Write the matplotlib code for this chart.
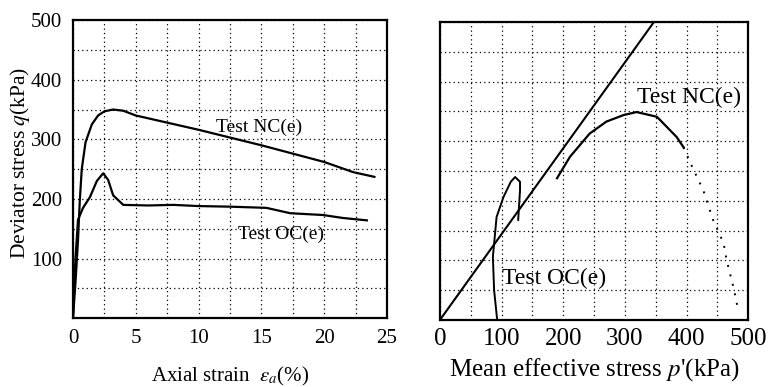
import matplotlib.pyplot as plt
from matplotlib.ticker import MultipleLocator

plt.rcParams['font.family'] = 'Liberation Serif'
plt.rcParams['mathtext.fontset'] = 'stix'

# Data: stress-strain curves
nc_strain = [0, 0.2, 0.4, 0.55, 0.7, 1.0, 1.5, 2.0, 2.5, 3.2, 4.0, 5, 10, 15, 20, 22.3, 24]
nc_q = [0, 60, 130, 200, 250, 295, 325, 340, 347, 350, 348, 340, 316, 290, 262, 245, 237]

oc_strain = [0, 0.2, 0.4, 0.8, 1.35, 1.9, 2.4, 2.8, 3.2, 4.0, 6, 8, 10, 12.5, 15.4, 17.3, 19.9, 21.5, 23.4]
oc_q = [0, 100, 165, 185, 203, 230, 243, 232, 206, 190, 189, 190, 188, 187, 185, 176, 173, 168, 164]

# Data: effective stress paths
csl_p = [0, 347]
csl_q = [0, 500]

nc_p = [190, 211, 243, 270, 298, 319, 352, 384, 395]
nc_path_q = [238, 274, 313, 333, 344, 349, 341, 307, 290]
nc_p_tail = [395, 410, 427, 443, 460, 465, 476, 482]
nc_q_tail = [290, 255, 218, 168, 129, 100, 55, 25]

oc_p = [93, 88, 86, 92, 103, 115, 122, 130, 130, 127]
oc_path_q = [0, 50, 106, 173, 206, 232, 240, 232, 218, 168]

fig = plt.figure(figsize=(7.73, 3.87), dpi=100)
ax1 = fig.add_axes([0.0944, 0.178, 0.4062, 0.770])
ax2 = fig.add_axes([0.569, 0.173, 0.399, 0.770])

for ax in (ax1, ax2):
    ax.grid(True, which='both', linestyle=(0, (1, 2.5)), color='black', linewidth=0.9)
    ax.tick_params(which='both', length=0, pad=8)
    for s in ax.spines.values():
        s.set_linewidth(1.6)
    ax.set_ylim(0, 500)
    ax.yaxis.set_minor_locator(MultipleLocator(50))

# Left panel
ax1.plot(nc_strain, nc_q, color='black', lw=1.6)
ax1.plot(oc_strain, oc_q, color='black', lw=1.6)
ax1.set_xlim(0, 25)
ax1.set_xticks([0, 5, 10, 15, 20, 25])
ax1.xaxis.set_minor_locator(MultipleLocator(2.5))
ax1.set_yticks([100, 200, 300, 400, 500])
ax1.tick_params(labelsize=15)
ax1.set_xlabel(r'Axial strain  $\varepsilon_a$(%)', fontsize=15, labelpad=12)
ax1.set_ylabel(r'Deviator stress $q$(kPa)', fontsize=15.5)
ax1.yaxis.set_label_coords(-0.13, 0.52)
ax1.text(14.8, 320, 'Test NC(e)', fontsize=14, ha='center', va='center')
ax1.text(16.6, 140, 'Test OC(e)', fontsize=14, ha='center', va='center')

# Right panel
ax2.plot(csl_p, csl_q, color='black', lw=1.5)
ax2.plot(nc_p, nc_path_q, color='black', lw=1.6)
ax2.plot(nc_p_tail, nc_q_tail, color='black', lw=1.4, linestyle=(0, (1, 4)))
ax2.plot(oc_p, oc_path_q, color='black', lw=1.4)
ax2.set_xlim(0, 500)
ax2.set_xticks([0, 100, 200, 300, 400, 500])
ax2.xaxis.set_minor_locator(MultipleLocator(50))
ax2.set_yticks([100, 200, 300, 400])
ax2.set_yticklabels([])
ax2.tick_params(labelsize=18, pad=6)
ax2.set_xlabel(r"Mean effective stress $p$'(kPa)", fontsize=18, labelpad=4)
ax2.text(404, 374, 'Test NC(e)', fontsize=17, ha='center', va='center')
ax2.text(100, 70, 'Test OC(e)', fontsize=17, ha='left', va='center')

fig.savefig('out.png', dpi=100)
